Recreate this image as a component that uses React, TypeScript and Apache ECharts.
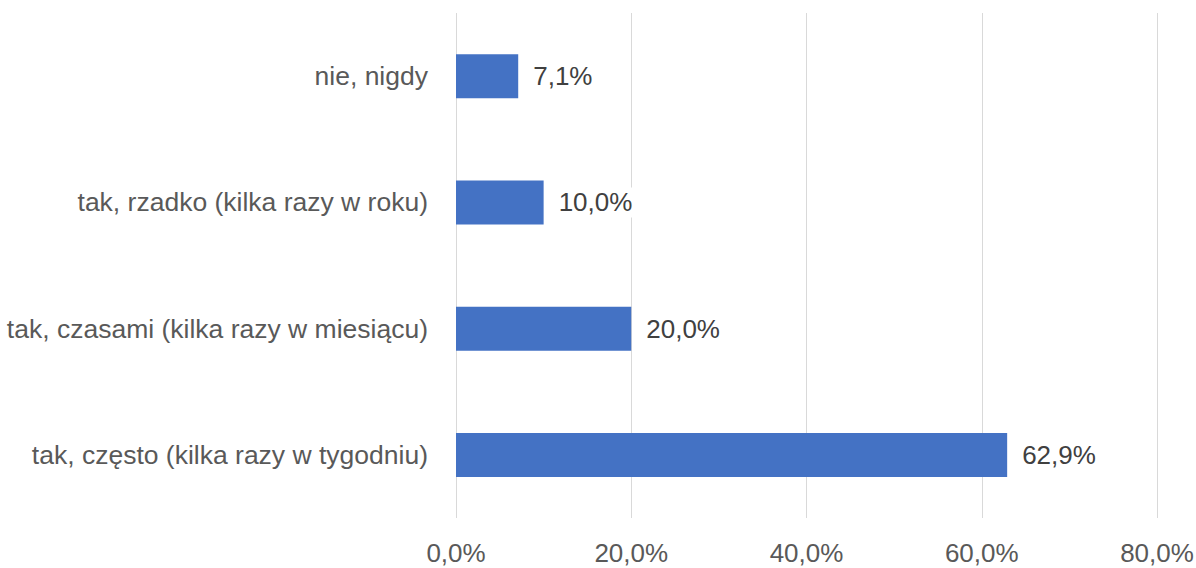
import React, { useEffect, useRef } from "react";
import * as echarts from "echarts";

const categories = [
  "tak, często (kilka razy w tygodniu)",
  "tak, czasami (kilka razy w miesiącu)",
  "tak, rzadko (kilka razy w roku)",
  "nie, nigdy",
];
const values = [62.9, 20.0, 10.0, 7.1];
const axisMin = 0;
const axisMax = 80;
const axisInterval = 20;

const fmt = (v: number) => v.toFixed(1).replace(".", ",") + "%";

export default function App() {
  const ref = useRef<HTMLDivElement>(null);
  useEffect(() => {
    if (!ref.current) return;
    const chart = echarts.init(ref.current, null, { renderer: "svg" });
    const font = "Liberation Sans";
    chart.setOption({
      animation: false,
      grid: {
        left: 456,
        right: 39,
        top: 13,
        bottom: 50,
        containLabel: false,
        outerBoundsMode: "none",
      },
      xAxis: {
        type: "value",
        min: axisMin,
        max: axisMax,
        interval: axisInterval,
        axisLine: { show: false },
        axisTick: { show: false },
        splitLine: { show: true, lineStyle: { color: "#d9d9d9", width: 1 } },
        axisLabel: {
          formatter: (v: number) => fmt(v),
          color: "#595959",
          fontSize: 26,
          fontFamily: font,
          margin: 22,
        },
      },
      yAxis: {
        type: "category",
        data: categories,
        axisLine: { show: false },
        axisTick: { show: false },
        splitLine: { show: false },
        axisLabel: {
          color: "#595959",
          fontSize: 26.5,
          fontFamily: font,
          margin: 28,
        },
      },
      series: [
        {
          type: "bar",
          data: values,
          barWidth: 44,
          itemStyle: { color: "#4472C4" },
          label: {
            show: true,
            position: "right",
            distance: 11,
            formatter: (p: any) => fmt(p.value),
            color: "#404040",
            fontSize: 26,
            fontFamily: font,
            backgroundColor: "#ffffff",
            padding: [2, 4],
          },
        },
      ],
    });
    return () => chart.dispose();
  }, []);
  return (
    <div
      ref={ref}
      style={{ position: "absolute", left: 0, top: 0, width: 1196, height: 568 }}
    />
  );
}
